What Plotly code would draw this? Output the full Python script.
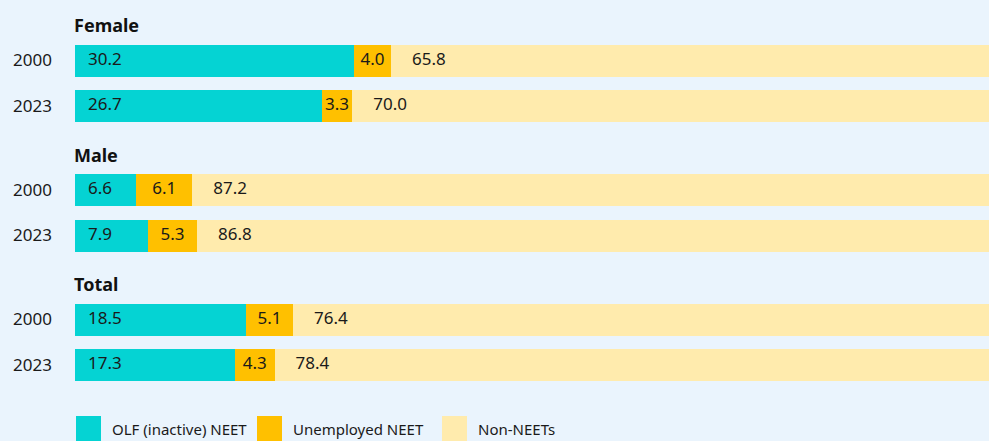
import plotly.graph_objects as go

# Datos (% de jóvenes)
grupos = ['Female', 'Male', 'Total']
anios = ['2000', '2023']
olf_neet = [[30.2, 26.7], [6.6, 7.9], [18.5, 17.3]]
unemployed_neet = [[4.0, 3.3], [6.1, 5.3], [5.1, 4.3]]
non_neet = [[65.8, 70.0], [87.2, 86.8], [76.4, 78.4]]

series = ['OLF (inactive) NEET', 'Unemployed NEET', 'Non-NEETs']
colores = ['#05D3D3', '#FFC000', '#FFEBAD']

FONT = 'Noto Sans'
TXT = '#1a1a1a'
W, H = 989, 441
L = 75
XMAX = 98.9
PX = XMAX / (W - L)  # unidades de x por pixel

# posiciones verticales (en pixeles, eje y invertido)
y_head = [25 + g * 129.5 for g in range(len(grupos))]
y_pos, y_txt, olf, une, non = [], [], [], [], []
for g in range(len(grupos)):
    for i in range(len(anios)):
        y_pos.append(y_head[g] + 35.5 + i * 45.5)
        y_txt.append(anios[i])
        olf.append(olf_neet[g][i])
        une.append(unemployed_neet[g][i])
        non.append(non_neet[g][i])

fig = go.Figure()

for nombre, vals, base, color in [
    (series[0], olf, [0] * len(olf), colores[0]),
    (series[1], une, olf, colores[1]),
    (series[2], non, [a + b for a, b in zip(olf, une)], colores[2]),
]:
    fig.add_trace(go.Bar(
        x=vals, y=y_pos, base=base, orientation='h', width=32,
        marker=dict(color=color, line=dict(width=0)),
        name=nombre, showlegend=False, hoverinfo='skip'
    ))

# Etiquetas de valores
fig.add_trace(go.Scatter(
    x=[13 * PX] * len(olf), y=y_pos, mode='text',
    text=[f'{v:.1f}' for v in olf], textposition='middle right',
    textfont=dict(size=17, color=TXT, family=FONT),
    showlegend=False, hoverinfo='skip'
))
fig.add_trace(go.Scatter(
    x=[a + b / 2 for a, b in zip(olf, une)], y=y_pos, mode='text',
    text=[f'{v:.1f}' for v in une], textposition='middle center',
    textfont=dict(size=17, color=TXT, family=FONT),
    showlegend=False, hoverinfo='skip'
))
fig.add_trace(go.Scatter(
    x=[a + b + 21 * PX for a, b in zip(olf, une)], y=y_pos, mode='text',
    text=[f'{v:.1f}' for v in non], textposition='middle right',
    textfont=dict(size=17, color=TXT, family=FONT),
    showlegend=False, hoverinfo='skip'
))

# Encabezados de grupo
for g, nombre in enumerate(grupos):
    fig.add_annotation(
        x=0, y=y_head[g], xref='x', yref='y', text=f'<b>{nombre}</b>',
        showarrow=False, xanchor='left', yanchor='middle', xshift=-3,
        font=dict(size=18, color='#111111', family=FONT)
    )

# Leyenda personalizada
leg_x = [76, 257, 442]
for k in range(len(series)):
    x0 = (leg_x[k] - L) / (W - L)
    x1 = (leg_x[k] + 25 - L) / (W - L)
    fig.add_shape(type='rect', xref='paper', yref='y',
                  x0=x0, x1=x1, y0=416, y1=445,
                  fillcolor=colores[k], line=dict(width=0), layer='above')
    fig.add_annotation(
        x=(leg_x[k] + 34 - L) / (W - L), y=429, xref='paper', yref='y',
        text=series[k], showarrow=False, xanchor='left', yanchor='middle',
        font=dict(size=15, color=TXT, family=FONT)
    )

fig.update_layout(
    width=W, height=H,
    paper_bgcolor='#EAF4FD', plot_bgcolor='#EAF4FD',
    margin=dict(l=L, r=0, t=0, b=0),
    barmode='overlay', bargap=0,
    font=dict(family=FONT, size=17, color=TXT),
    xaxis=dict(range=[0, XMAX], showgrid=False, zeroline=False,
               showticklabels=False, fixedrange=True),
    yaxis=dict(range=[H, 0], showgrid=False, zeroline=False,
               tickvals=y_pos, ticktext=y_txt, ticks='',
               ticklabelstandoff=22, tickfont=dict(size=17, color=TXT, family=FONT),
               fixedrange=True),
    showlegend=False
)

fig.write_html('out.html', config={'displayModeBar': False},
               post_script="document.body.style.margin='0';")
